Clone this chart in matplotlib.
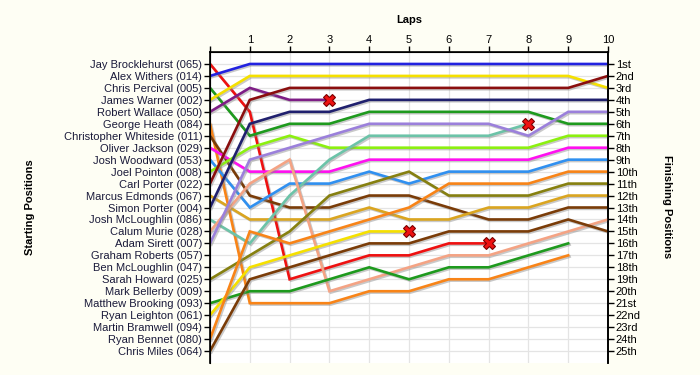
import matplotlib
matplotlib.use("Agg")
import matplotlib.pyplot as plt
import matplotlib.patheffects as pe

plt.rcParams['font.family'] = ['Liberation Sans', 'DejaVu Sans']

# starting grid (top = pole)
drivers = ["Jay Brocklehurst (065)", "Alex Withers (014)", "Chris Percival (005)",
           "James Warner (002)", "Robert Wallace (050)", "George Heath (084)",
           "Christopher Whiteside (011)", "Oliver Jackson (029)", "Josh Woodward (053)",
           "Joel Pointon (008)", "Carl Porter (022)", "Marcus Edmonds (067)",
           "Simon Porter (004)", "Josh McLoughlin (086)", "Calum Murie (028)",
           "Adam Sirett (007)", "Graham Roberts (057)", "Ben McLoughlin (047)",
           "Sarah Howard (025)", "Mark Bellerby (009)", "Matthew Brooking (093)",
           "Ryan Leighton (061)", "Martin Bramwell (094)", "Ryan Bennet (080)",
           "Chris Miles (064)"]
finish_labels = ["1st", "2nd", "3rd", "4th", "5th", "6th", "7th", "8th", "9th", "10th",
                 "11th", "12th", "13th", "14th", "15th", "16th", "17th", "18th", "19th",
                 "20th", "21st", "22nd", "23rd", "24th", "25th"]
lap_labels = ["", "1", "2", "3", "4", "5", "6", "7", "8", "9", "10"]

# position at end of each lap (index 0 = grid)
brocklehurst = [1, 5, 19, 18, 17, 17, 16, 16]
withers      = [2, 1, 1, 1, 1, 1, 1, 1, 1, 1, 1]
percival     = [3, 7, 6, 6, 5, 5, 5, 5, 5, 6, 6]
warner       = [4, 2, 2, 2, 2, 2, 2, 2, 2, 2, 3]
wallace      = [5, 3, 4, 4]
heath        = [6, 21, 21, 21, 20, 20, 19, 19, 18, 17]
whiteside    = [7, 12, 13, 13, 12, 12, 13, 14, 14, 13, 13]
jackson      = [8, 10, 10, 10, 9, 9, 9, 9, 9, 8, 8]
woodward     = [9, 13, 11, 11, 10, 11, 10, 10, 10, 9, 9]
pointon      = [10, 8, 7, 8, 8, 8, 8, 8, 8, 7, 7]
c_porter     = [11, 4, 3, 3, 3, 3, 3, 3, 3, 3, 2]
edmonds      = [12, 14, 14, 14, 13, 14, 14, 13, 13, 12, 12]
s_porter     = [13, 6, 5, 5, 4, 4, 4, 4, 4, 4, 4]
j_mcloughlin = [14, 16, 12, 9, 7, 7, 7, 7, 6]
murie        = [15, 11, 9, 20, 19, 18, 17, 17, 16, 15, 14]
sirett       = [16, 9, 8, 7, 6, 6, 6, 6, 7, 5, 5]
howard       = [19, 17, 15, 12, 11, 10, 12, 12, 12, 11, 11]
brooking     = [21, 20, 20, 19, 18, 19, 18, 18, 17, 16]
leighton     = [22, 18, 17, 16, 15, 15]
bennet       = [24, 15, 16, 15, 14, 13, 11, 11, 11, 10, 10]
miles        = [25, 19, 18, 17, 16, 16, 15, 15, 15, 14, 15]

series = [brocklehurst, withers, percival, warner, wallace, heath, whiteside,
          jackson, woodward, pointon, c_porter, edmonds, s_porter, j_mcloughlin,
          murie, sirett, howard, brooking, leighton, bennet, miles]
colors = ["#EE1111", "#2222E0", "#1E9A1E", "#F5E000", "#7E1E86", "#F88418", "#7A3C08",
          "#FF10F0", "#3090F0", "#8CF010", "#8A0E0E", "#DAA520", "#20206E", "#6CC3A8",
          "#F4A384", "#9B80DB", "#868010", "#1E9A1E", "#F5E000", "#F88418", "#7A3C08"]
retired = [True, False, False, False, True, False, False, False, False, False, False,
           False, False, True, False, False, False, False, True, False, False]

fig = plt.figure(figsize=(7, 3.75), dpi=100, facecolor="#FEFEF4")
ax = fig.add_axes([0.3, 0.032, 0.5686, 0.8293])
ax.set_facecolor("white")

shadow = [pe.SimpleLineShadow(offset=(1.0, -1.0), shadow_color="#888888", alpha=0.45),
          pe.Normal()]
for pos, col, dnf in zip(series, colors, retired):
    laps = list(range(len(pos)))
    ax.plot(laps, pos, color=col, lw=1.9, solid_joinstyle="miter",
            path_effects=shadow, zorder=3)
    if dnf:
        ax.plot(laps[-1], pos[-1], marker="X", ms=8, color="#EE1111",
                mec="#7A0000", mew=0.8, zorder=5)

ax.set_xlim(0, 10)
ax.set_ylim(26, 0)
ax.xaxis.tick_top()
ax.set_xticks(range(11))
ax.set_xticklabels(lap_labels, fontsize=8)
ax.xaxis.set_label_position("top")
ax.set_xlabel("Laps", fontsize=8, fontweight="bold", labelpad=9)
ax.set_yticks(range(1, 26))
ax.set_yticklabels(drivers, fontsize=8, color="#1A1A3A")
ax.tick_params(axis="both", length=4, width=1, pad=1.5)
ax.tick_params(axis="x", pad=1)
ax.grid(True, color="#E4E4E4", lw=0.9, zorder=0)
ax.set_axisbelow(True)
for s in ["left", "right", "top"]:
    ax.spines[s].set_linewidth(1.2)
ax.spines["bottom"].set_visible(False)

ax2 = ax.twinx()
ax2.set_ylim(26, 0)
ax2.set_yticks(range(1, 26))
ax2.set_yticklabels(finish_labels, fontsize=8)
ax2.tick_params(axis="y", length=4, width=1, pad=1.5)
ax2.spines["bottom"].set_visible(False)
ax2.spines["right"].set_linewidth(1.2)

fig.text(0.043, 0.448, "Starting Positions", rotation=90, ha="center", va="center",
         fontsize=8, fontweight="bold")
fig.text(0.953, 0.448, "Finishing Positions", rotation=270, ha="center", va="center",
         fontsize=8, fontweight="bold")

fig.savefig("out.png", dpi=100, facecolor=fig.get_facecolor())
